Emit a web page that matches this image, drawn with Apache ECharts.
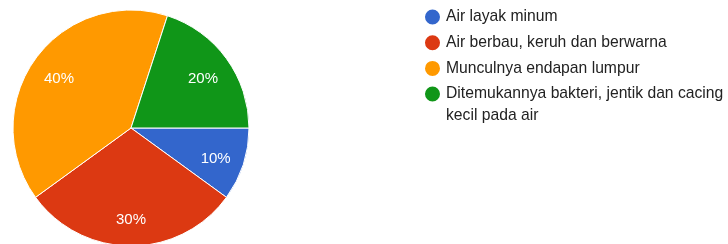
<!DOCTYPE html>
<html>
<head>
<meta charset="utf-8">
<style>
  html, body { margin: 0; padding: 0; background: #fff; }
  #chart { width: 728px; height: 244px; }
</style>
<script src="https://cdn.jsdelivr.net/npm/echarts@6/dist/echarts.min.js"></script>
</head>
<body>
<div id="chart"></div>
<script>
  // data
  var categories = [
    'Air layak minum',
    'Air berbau, keruh dan berwarna',
    'Munculnya endapan lumpur',
    'Ditemukannya bakteri, jentik dan cacing kecil pada air'
  ]
  var values = [10, 30, 40, 20]
  var colors = ['#3366cc', '#dc3912', '#ff9900', '#109618']

  var pieData = categories.map(function (name, i) {
    return { name: name, value: values[i] }
  })

  var chart = echarts.init(document.getElementById('chart'))
  var legendText = {
    fontFamily: 'Arial, "Liberation Sans", sans-serif',
    fontSize: 15.7,
    color: '#222',
    lineHeight: 22
  }

  chart.setOption({
    color: colors,
    animation: false,
    legend: [
      {
        orient: 'vertical',
        left: 423,
        top: 6,
        padding: 0,
        itemGap: 3.7,
        icon: 'circle',
        itemWidth: 17,
        itemHeight: 17,
        data: categories.slice(0, 3),
        textStyle: legendText
      },
      {
        // last entry wraps onto two lines; a blank first line keeps the icon on line one
        orient: 'vertical',
        left: 423,
        top: 61,
        padding: 0,
        icon: 'circle',
        itemWidth: 17,
        itemHeight: 17,
        data: categories.slice(3),
        formatter: function (name) {
          return '\n' + name.replace('cacing ', 'cacing\n')
        },
        textStyle: legendText
      }
    ],
    series: [
      {
        type: 'pie',
        center: [131, 128],
        radius: [0, 118],
        startAngle: 0,
        clockwise: true,
        data: pieData,
        itemStyle: { borderColor: '#fff', borderWidth: 1 },
        label: { show: false },
        labelLine: { show: false },
        emphasis: { scale: false }
      },
      {
        // transparent ring only used to place the percent labels further out
        type: 'pie',
        center: [131, 128],
        radius: [54, 118],
        startAngle: 0,
        clockwise: true,
        silent: true,
        data: pieData,
        itemStyle: { color: 'rgba(0,0,0,0)' },
        label: {
          show: true,
          position: 'inside',
          offset: [0, 3],
          color: '#fff',
          fontFamily: 'Arial, "Liberation Sans", sans-serif',
          fontSize: 15,
          formatter: function (p) {
            return Math.round(p.percent) + '%'
          }
        },
        labelLine: { show: false }
      }
    ]
  })
</script>
</body>
</html>
